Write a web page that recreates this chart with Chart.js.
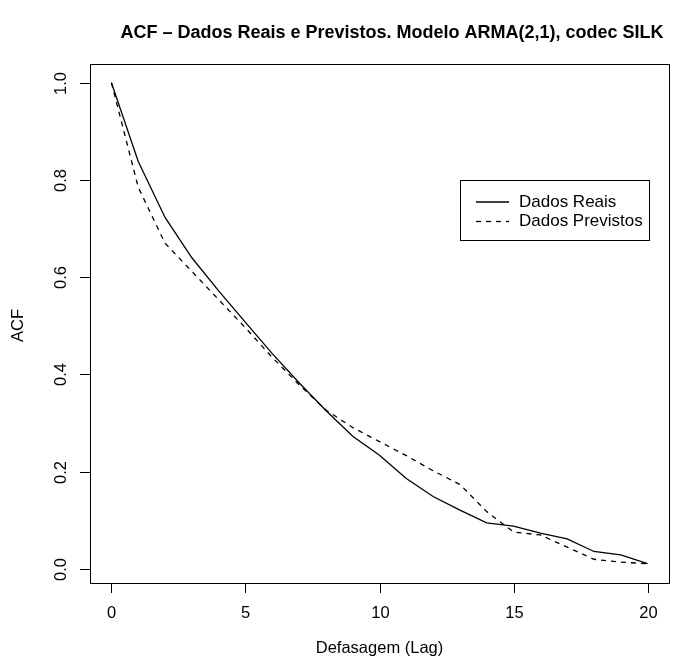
<!DOCTYPE html>
<html>
<head>
<meta charset="utf-8">
<script src="https://cdn.jsdelivr.net/npm/chart.js@4.4.0/dist/chart.umd.min.js"></script>
<style>
  html, body { margin: 0; padding: 0; background: #fff; }
  #wrap { width: 678px; height: 664px; }
</style>
</head>
<body>
<div id="wrap"><canvas id="acfChart" width="678" height="664"></canvas></div>
<script>
// lags 0..20
const lags = [0,1,2,3,4,5,6,7,8,9,10,11,12,13,14,15,16,17,18,19,20];
const dadosReais = [1.0,0.838,0.723,0.640,0.572,0.507,0.443,0.383,0.326,0.273,0.234,0.186,0.149,0.121,0.095,0.088,0.074,0.062,0.036,0.029,0.011];
const dadosPrevistos = [1.0,0.785,0.670,0.612,0.554,0.496,0.435,0.379,0.327,0.291,0.262,0.233,0.202,0.174,0.118,0.076,0.070,0.045,0.020,0.014,0.011];
const xTicks = [0,5,10,15,20];
const yTicks = [0.0,0.2,0.4,0.6,0.8,1.0];

const titleText = 'ACF \u2013 Dados Reais e Previstos. Modelo ARMA(2,1), codec SILK';
const dadosReaisLabel = 'Dados Reais';
const dadosPrevistosLabel = 'Dados Previstos';
const fontName = '"Liberation Sans", Arial, sans-serif';

// R-style box, axes, labels and legend drawn with the chart's scales
const rAxes = {
  id: 'rAxes',
  afterDraw(chart) {
    const ctx = chart.ctx;
    const a = chart.chartArea;
    const xs = chart.scales.x, ys = chart.scales.y;
    ctx.save();
    ctx.strokeStyle = '#000';
    ctx.fillStyle = '#000';
    ctx.lineWidth = 1;
    ctx.strokeRect(a.left + 0.5, a.top + 0.5, a.right - a.left, a.bottom - a.top);

    // x axis
    ctx.font = '16.5px ' + fontName;
    ctx.textAlign = 'center';
    ctx.textBaseline = 'middle';
    xTicks.forEach(t => {
      const px = Math.round(xs.getPixelForValue(t)) + 0.5;
      ctx.beginPath();
      ctx.moveTo(px, a.bottom);
      ctx.lineTo(px, a.bottom + 10);
      ctx.stroke();
      ctx.fillText(String(t), px, a.bottom + 30);
    });

    // y axis
    yTicks.forEach(t => {
      const py = Math.round(ys.getPixelForValue(t)) + 0.5;
      ctx.beginPath();
      ctx.moveTo(a.left, py);
      ctx.lineTo(a.left - 10, py);
      ctx.stroke();
      ctx.save();
      ctx.translate(a.left - 29, py);
      ctx.rotate(-Math.PI / 2);
      ctx.fillText(t.toFixed(1), 0, 0);
      ctx.restore();
    });

    // axis titles
    const cx = (a.left + a.right) / 2;
    ctx.fillText('Defasagem (Lag)', cx, 648);
    ctx.save();
    ctx.translate(18, (a.top + a.bottom) / 2 + 2);
    ctx.rotate(-Math.PI / 2);
    ctx.fillText('ACF', 0, 0);
    ctx.restore();

    // title
    ctx.font = 'bold 18px ' + fontName;
    ctx.fillText(titleText, 392, 33);

    // legend
    ctx.strokeRect(460.5, 180.5, 189, 60);
    ctx.font = '17px ' + fontName;
    ctx.textAlign = 'left';
    const rows = [[dadosReaisLabel, []], [dadosPrevistosLabel, [5, 5]]];
    rows.forEach((r, i) => {
      const y = 202 + i * 19.5;
      ctx.setLineDash(r[1]);
      ctx.lineWidth = 1.3;
      ctx.beginPath();
      ctx.moveTo(476, y);
      ctx.lineTo(509, y);
      ctx.stroke();
      ctx.setLineDash([]);
      ctx.fillText(r[0], 519, y);
    });
    ctx.restore();
  }
};

new Chart(document.getElementById('acfChart'), {
  type: 'line',
  data: {
    datasets: [
      {
        label: dadosReaisLabel,
        data: lags.map((l, i) => ({ x: l, y: dadosReais[i] })),
        borderColor: '#000',
        borderWidth: 1.3,
        pointRadius: 0,
        tension: 0,
        fill: false
      },
      {
        label: dadosPrevistosLabel,
        data: lags.map((l, i) => ({ x: l, y: dadosPrevistos[i] })),
        borderColor: '#000',
        borderWidth: 1.3,
        borderDash: [5, 5],
        pointRadius: 0,
        tension: 0,
        fill: false
      }
    ]
  },
  options: {
    responsive: false,
    animation: false,
    layout: { padding: { left: 90, right: 9, top: 64, bottom: 81 } },
    plugins: { legend: { display: false }, tooltip: { enabled: false } },
    scales: {
      x: { type: 'linear', display: false, min: -0.8, max: 20.8 },
      y: { type: 'linear', display: false, min: -0.0288, max: 1.0385 }
    }
  },
  plugins: [rAxes]
});
</script>
</body>
</html>
